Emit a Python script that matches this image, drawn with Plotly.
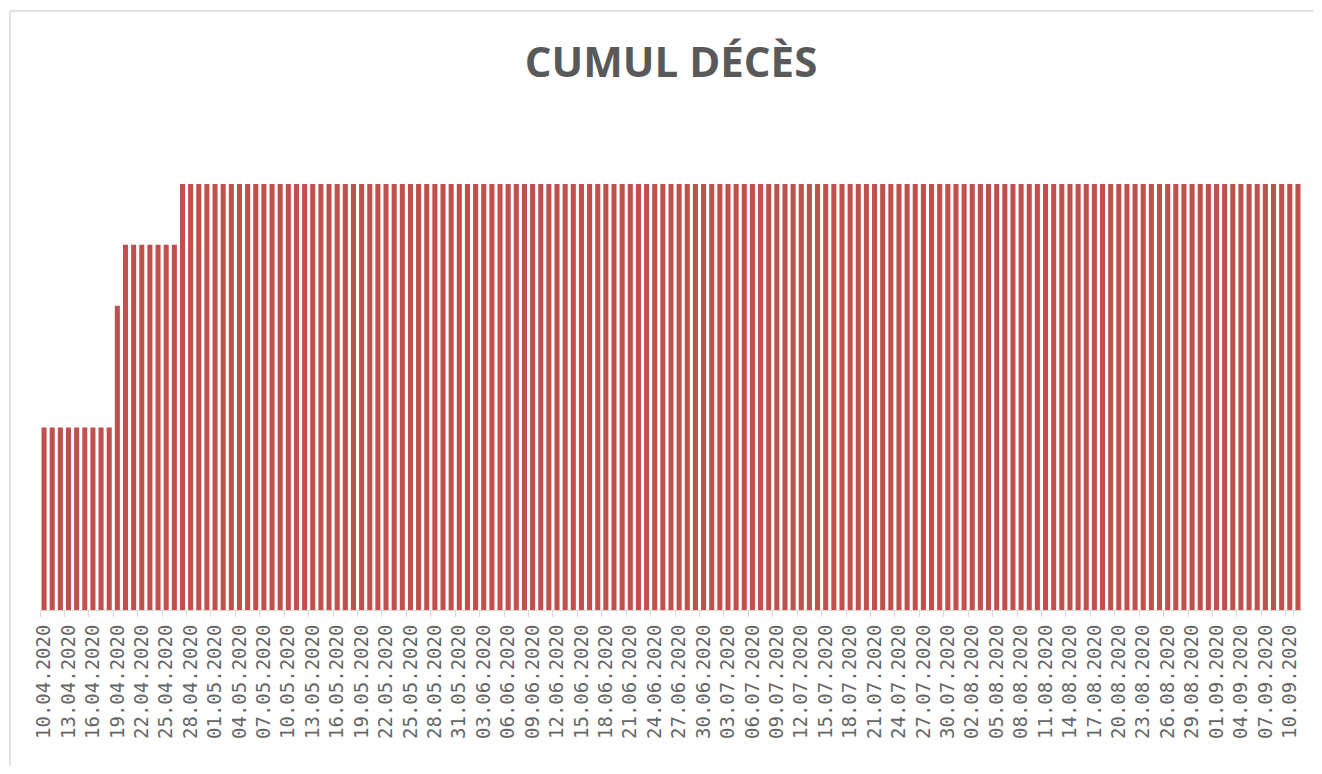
import pandas as pd
import plotly.graph_objects as go

# ---- data ----
dates = [d.strftime("%d.%m.%Y") for d in pd.date_range("2020-04-10", "2020-09-11", freq="D")]

deces = [
    3, 3, 3, 3, 3, 3, 3, 3, 3,
    5,
    6, 6, 6, 6, 6, 6, 6,
    7, 7, 7, 7, 7, 7, 7, 7, 7, 7, 7, 7, 7, 7, 7, 7, 7, 7, 7, 7,
    7, 7, 7, 7, 7, 7, 7, 7, 7, 7, 7, 7, 7, 7, 7, 7, 7, 7, 7, 7,
    7, 7, 7, 7, 7, 7, 7, 7, 7, 7, 7, 7, 7, 7, 7, 7, 7, 7, 7, 7,
    7, 7, 7, 7, 7, 7, 7, 7, 7, 7, 7, 7, 7, 7, 7, 7, 7, 7, 7, 7,
    7, 7, 7, 7, 7, 7, 7, 7, 7, 7, 7, 7, 7, 7, 7, 7, 7, 7, 7, 7,
    7, 7, 7, 7, 7, 7, 7, 7, 7, 7, 7, 7, 7, 7, 7, 7, 7, 7, 7, 7,
    7, 7, 7, 7, 7, 7, 7, 7, 7, 7, 7, 7, 7, 7, 7, 7, 7, 7,
]
tick_labels = dates[::3]
title_text = "CUMUL DÉCÈS"

# ---- layout constants (pixels, page offset of 8px compensated) ----
OFF = 8
W, H = 1322 - 2 * OFF, 774 - 2 * OFF
ML = 40 - OFF
MT = 123 - OFF
plot_right = 1302 - OFF
plot_bottom = 610 - OFF
MR = W - plot_right
MB = H - plot_bottom
PW, PH = W - ML - MR, H - MT - MB

fig = go.Figure(
    go.Bar(
        x=dates,
        y=deces,
        marker=dict(color="#C0504D", line=dict(width=0)),
        hovertemplate="%{x}: %{y}<extra></extra>",
    )
)

# chart-area border (light gray frame: top and left edges visible)
bx0 = (10 - OFF - ML) / PW
by1 = (plot_bottom - (11 - OFF)) / PH
border = dict(color="#d9d9d9", width=1.5)
fig.add_shape(type="line", xref="paper", yref="paper",
              x0=bx0, x1=1.5, y0=by1, y1=by1, line=border, layer="below")
fig.add_shape(type="line", xref="paper", yref="paper",
              x0=bx0, x1=bx0, y0=-1.0, y1=by1, line=border, layer="below")

title_x = (671 - OFF - ML) / PW

fig.update_layout(
    width=W, height=H,
    margin=dict(l=ML, r=MR, t=MT, b=MB),
    paper_bgcolor="white", plot_bgcolor="white",
    bargap=0.38,
    showlegend=False,
    title=dict(
        text="<b>" + title_text + "</b>",
        x=title_x, xanchor="center", y=1 - (62 - OFF) / H, yanchor="middle",
        yref="container", xref="paper",
        font=dict(family="Open Sans", size=42, color="#595959"),
    ),
    xaxis=dict(
        type="category",
        tickmode="array", tickvals=tick_labels, ticktext=tick_labels,
        tickangle=-90,
        tickson="boundaries",
        ticks="outside", ticklen=6, tickcolor="#d9d9d9", tickwidth=1,
        ticklabelstandoff=6,
        showline=True, linecolor="#d9d9d9", linewidth=1,
        showgrid=False, zeroline=False,
        tickfont=dict(family="DejaVu Sans Mono", size=19, color="#666666"),
        range=[-0.5, len(dates) - 0.5],
    ),
    yaxis=dict(
        range=[0, 8],
        visible=False, showgrid=False, zeroline=False,
    ),
)

fig.write_html("out.html")
